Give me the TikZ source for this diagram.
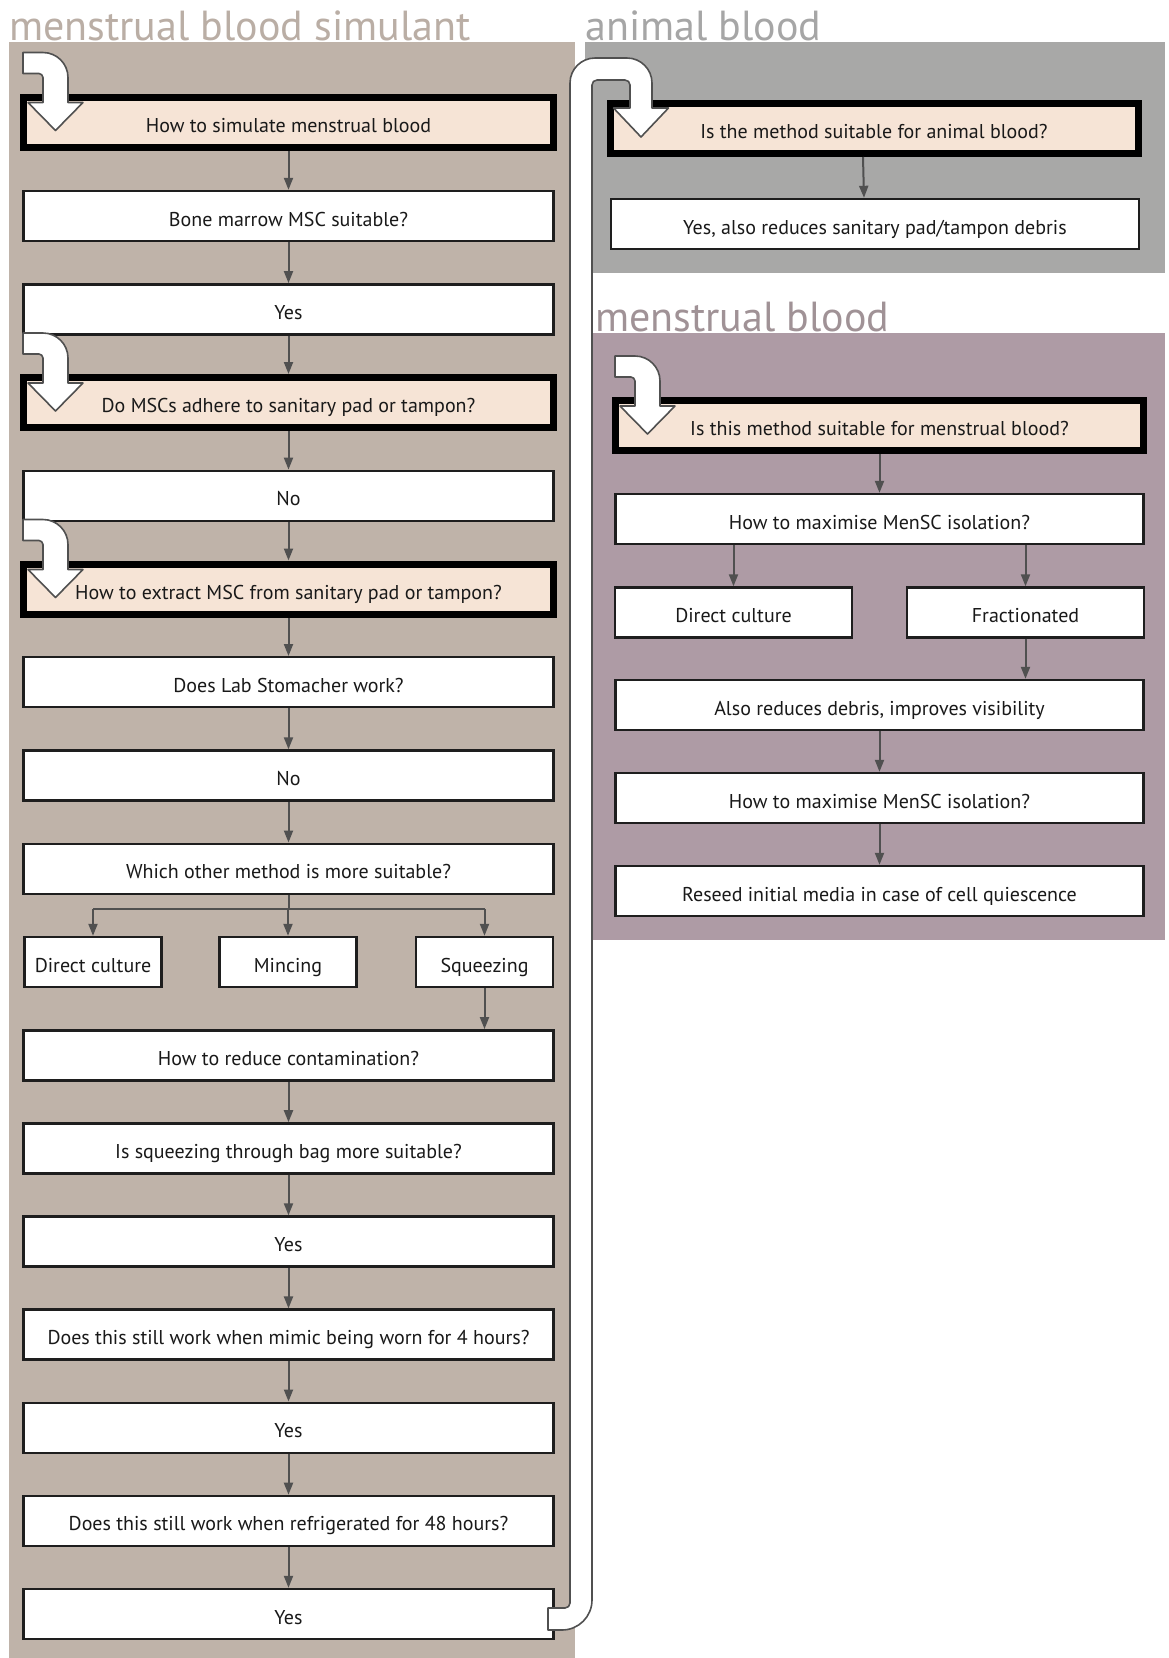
\documentclass[tikz,border=0pt]{standalone}
\usepackage{fontspec}
\setmainfont{PT Sans}
\usetikzlibrary{arrows.meta,calc}

\definecolor{tanpanel}{RGB}{191,179,169}
\definecolor{tantitle}{RGB}{186,174,165}
\definecolor{greypanel}{RGB}{168,168,167}
\definecolor{greytitle}{RGB}{166,166,166}
\definecolor{mauvepanel}{RGB}{174,155,165}
\definecolor{mauvetitle}{RGB}{160,146,150}
\definecolor{peach}{RGB}{246,228,214}
\definecolor{edge}{RGB}{30,30,30}
\definecolor{link}{RGB}{80,80,80}

\tikzset{
  box/.style={draw=edge, fill=white, line width=2.4pt, minimum width=530pt,
    minimum height=50pt, inner sep=0pt, text=black!90,
    text height=20pt, text depth=0pt,
    font=\fontsize{20}{22}\selectfont},
  qbox/.style={box, fill=peach, draw=black, line width=7pt},
  rbox/.style={box, minimum width=528pt},
  rqbox/.style={qbox, minimum width=528pt},
  smallbox/.style={box, minimum width=137pt},
  halfbox/.style={box, minimum width=236.5pt},
  arr/.style={draw=link, line width=2pt, -{Triangle[width=9pt,length=12pt]}},
  plain/.style={draw=link, line width=2pt},
  bent/.style={fill=white, draw=link, line width=1.6pt, line join=round},
  title/.style={anchor=base west, inner sep=0pt, font=\fontsize{42}{46}\selectfont}
}

% white bent arrow dropping into the top-left corner of a question box
\newcommand{\bentarrow}[1]{%
  \begin{scope}[shift={(#1.west)}]
    \filldraw[bent] (3,-69.5) -- (23,-69.5)
      .. controls (36.8,-69.5) and (48,-58.3) .. (48,-44.5)
      -- (48,-19.5) -- (63,-19.5) -- (35.5,8.5) -- (8,-19.5) -- (23,-19.5)
      -- (23,-44.5) .. controls (23,-46.7) and (20.8,-48.5) .. (19,-48.5)
      -- (3,-48.5) -- cycle;
  \end{scope}}

\begin{document}
\begin{tikzpicture}[x=1pt,y=-1pt]
\useasboundingbox (0,0) rectangle (1168,1658);
\fill[white] (0,0) rectangle (1168,1658);

% panels
\fill[tanpanel] (9,42) rectangle (575,1658);
\fill[greypanel] (585,42) rectangle (1165,273);
\fill[mauvepanel] (593,333) rectangle (1165,940);

% panel titles
\node[title, text=tantitle] (t1) at (9,40) {menstrual blood simulant};
\node[title, text=greytitle] (t2) at (585,40) {animal blood};
\node[title, text=mauvetitle] (t3) at (595,331) {menstrual blood};

% left column
\node[qbox] (L1) at (288.5,122) {How to simulate menstrual blood};
\node[box] (L2) at (288.5,216) {Bone marrow MSC suitable?};
\node[box] (L3) at (288.5,309.3) {Yes};
\node[qbox] (L4) at (288.5,402.5) {Do MSCs adhere to sanitary pad or tampon?};
\node[box] (L5) at (288.5,495.8) {No};
\node[qbox] (L6) at (288.5,589) {How to extract MSC from sanitary pad or tampon?};
\node[box] (L7) at (288.5,682.2) {Does Lab Stomacher work?};
\node[box] (L8) at (288.5,775.5) {No};
\node[box] (L9) at (288.5,868.7) {Which other method is more suitable?};
\node[smallbox] (L10a) at (93,962) {Direct culture};
\node[smallbox] (L10b) at (288,962) {Mincing};
\node[smallbox] (L10c) at (484.5,962) {Squeezing};
\node[box] (L11) at (288.5,1055.3) {How to reduce contamination?};
\node[box] (L12) at (288.5,1148.4) {Is squeezing through bag more suitable?};
\node[box] (L13) at (288.5,1241.5) {Yes};
\node[box] (L14) at (288.5,1334.6) {Does this still work when mimic being worn for 4 hours?};
\node[box] (L15) at (288.5,1427.7) {Yes};
\node[box] (L16) at (288.5,1520.9) {Does this still work when refrigerated for 48 hours?};
\node[box] (L17) at (288.5,1614) {Yes};

\foreach \a/\b in {L1/L2,L2/L3,L3/L4,L4/L5,L5/L6,L6/L7,L7/L8,L8/L9,
                   L11/L12,L12/L13,L13/L14,L14/L15,L15/L16,L16/L17}
  \draw[arr] (\a) -- (\b);

% three-way split
\coordinate (split) at ($(L9.south)+(0,14)$);
\draw[plain] (L9.south) -- (split);
\draw[plain] (split -| L10a) -- (split -| L10c);
\foreach \n in {L10a,L10b,L10c}
  \draw[arr] (split -| \n) -- (\n.north);
\draw[arr] (L10c.south) -- (L10c |- L11.north);

% animal blood column
\node[rqbox] (A1) at (874,128.5) {Is the method suitable for animal blood?};
\node[rbox] (A2) at (875,224) {Yes, also reduces sanitary pad/tampon debris};
\draw[arr] ($(A1.south)+(-11,0)$) -- ($(A2.north)+(-11,0)$);

% menstrual blood column
\node[rqbox] (M1) at (879.5,425.5) {Is this method suitable for menstrual blood?};
\node[rbox] (M2) at (879.5,519) {How to maximise MenSC isolation?};
\node[halfbox] (M3a) at (733.5,612.5) {Direct culture};
\node[halfbox] (M3b) at (1025.5,612.5) {Fractionated};
\node[rbox] (M4) at (879.5,705) {Also reduces debris, improves visibility};
\node[rbox] (M5) at (879.5,798) {How to maximise MenSC isolation?};
\node[rbox] (M6) at (879.5,891) {Reseed initial media in case of cell quiescence};

\draw[arr] (M1) -- (M2);
\draw[arr] (M3a |- M2.south) -- (M3a.north);
\draw[arr] (M3b |- M2.south) -- (M3b.north);
\draw[arr] (M3b.south) -- (M3b |- M4.north);
\draw[arr] (M4) -- (M5);
\draw[arr] (M5) -- (M6);

% bent entry arrows
\bentarrow{L1}
\bentarrow{L4}
\bentarrow{L6}
\bentarrow{M1}

% long return arrow from the last answer up into the animal blood column
\filldraw[bent] (548,1608) -- (565,1608)
  .. controls (567.8,1608) and (570,1605.8) .. (570,1603)
  -- (570,83) .. controls (570,69.2) and (581.2,58) .. (595,58)
  -- (627,58) .. controls (640.8,58) and (652,69.2) .. (652,83)
  -- (652,108) -- (668.5,108) -- (641,137) -- (613.5,108) -- (630,108)
  -- (630,85) .. controls (630,82.2) and (627.8,80) .. (625,80)
  -- (597,80) .. controls (594.2,80) and (592,82.2) .. (592,85)
  -- (592,1600) .. controls (592,1616.6) and (578.6,1630) .. (562,1630)
  -- (548,1630) -- cycle;
\end{tikzpicture}
\end{document}
